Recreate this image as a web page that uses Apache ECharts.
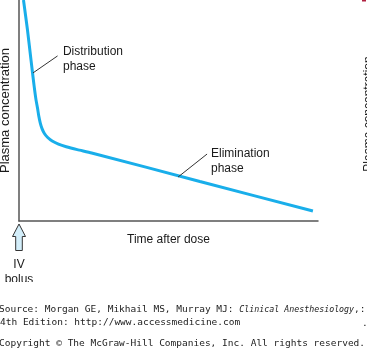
<!DOCTYPE html>
<html>
<head>
<meta charset="utf-8">
<script src="https://cdn.jsdelivr.net/npm/echarts@6/dist/echarts.min.js"></script>
<style>
  html, body { margin: 0; padding: 0; background: #fff; }
  #chart { width: 367px; height: 349px; }
</style>
</head>
<body>
<div id="chart"></div>
<script>
// Plasma concentration after an IV bolus (arbitrary units, time in arbitrary units)
const timeVals = [1.5, 2.84, 4.01, 5.02, 5.69, 6.2, 6.6, 7.1, 7.7, 8.5, 9.6, 11.1, 13.2, 15.8, 19.5, 24.3, 60.5, 98.3];
const concVals = [100, 86.4, 72.9, 61.5, 54.8, 51.0, 47.6, 44.4, 41.8, 39.6, 37.8, 36.2, 34.8, 33.6, 32.3, 30.8, 17.9, 4.5];

// Phase annotations: leader line start (on curve), leader line end, text anchor
const phaseNames = ['Distribution\nphase', 'Elimination\nphase'];
const leaderFrom = [[4.68, 67.0], [53.2, 19.9]];
const leaderTo = [[12.9, 74.7], [62.9, 30.3]];
const textAt = [[14.7, 73.1], [64.2, 27.2]];

const xAxisName = 'Time after dose';
const yAxisName = 'Plasma concentration';

const FONT = '"Liberation Sans", Arial, sans-serif';
const MONO = '"DejaVu Sans Mono", monospace';

const chart = echarts.init(document.getElementById('chart'), null, { renderer: 'canvas' });

chart.setOption({
  animation: false,
  backgroundColor: '#fff',
  grid: { left: 19, right: 49, top: 0, bottom: 128, containLabel: false, outerBoundsMode: 'none' },
  xAxis: {
    type: 'value', min: 0, max: 100,
    name: xAxisName, nameLocation: 'middle', nameGap: 13,
    nameTextStyle: { fontFamily: FONT, fontSize: 12, color: '#1a1a1a' },
    axisLine: { show: true, onZero: false, lineStyle: { color: '#555', width: 1.5 } },
    axisTick: { show: false }, axisLabel: { show: false }, splitLine: { show: false }
  },
  yAxis: {
    type: 'value', min: 0, max: 100,
    name: yAxisName, nameLocation: 'middle', nameGap: 7, nameRotate: 90,
    nameTextStyle: { fontFamily: FONT, fontSize: 13, color: '#1a1a1a' },
    axisLine: { show: true, onZero: false, lineStyle: { color: '#555', width: 1.5 } },
    axisTick: { show: false }, axisLabel: { show: false }, splitLine: { show: false }
  },
  series: [{
    type: 'line',
    data: timeVals.map((t, i) => [t, concVals[i]]),
    smooth: 0.2,
    showSymbol: false,
    clip: false,
    lineStyle: { color: '#19aeea', width: 3 }
  }]
});

// Annotations placed through the chart's own coordinate system
const g = [];
phaseNames.forEach((name, i) => {
  const a = chart.convertToPixel({ gridIndex: 0 }, leaderFrom[i]);
  const b = chart.convertToPixel({ gridIndex: 0 }, leaderTo[i]);
  const t = chart.convertToPixel({ gridIndex: 0 }, textAt[i]);
  g.push({
    type: 'line', shape: { x1: a[0], y1: a[1], x2: b[0], y2: b[1] },
    style: { stroke: '#333', lineWidth: 1 }, z: 10
  });
  g.push({
    type: 'text', x: t[0], y: t[1], z: 10,
    style: {
      text: name, font: '12px ' + FONT, fill: '#1a1a1a',
      align: 'left', verticalAlign: 'middle', lineHeight: 15
    }
  });
});

// IV bolus arrow under the origin
const o = chart.convertToPixel({ gridIndex: 0 }, [0, 0]);
const ax = o[0], ay = o[1];
g.push({
  type: 'polygon', z: 10,
  shape: {
    points: [
      [ax, ay + 3], [ax + 6.5, ay + 15.5], [ax + 3.3, ay + 15.5], [ax + 3.3, ay + 29.5],
      [ax - 3.3, ay + 29.5], [ax - 3.3, ay + 15.5], [ax - 6.5, ay + 15.5]
    ]
  },
  style: { fill: '#d3eefa', stroke: '#333', lineWidth: 1 }
});
g.push({
  type: 'text', x: ax, y: ay + 36.5, z: 10,
  style: { text: 'IV\nbolus', font: '12px ' + FONT, fill: '#1a1a1a', align: 'center', verticalAlign: 'top', lineHeight: 15 }
});
// figure panel ends below here
g.push({ type: 'rect', shape: { x: 0, y: 282, width: 367, height: 18 }, style: { fill: '#fff' }, z: 20 });

// Edge of the neighbouring panel
g.push({
  type: 'text', x: 369, y: 114, rotation: Math.PI / 2, z: 10,
  style: { text: yAxisName, font: '12px ' + FONT, fill: '#1a1a1a', align: 'center', verticalAlign: 'middle' }
});
g.push({ type: 'rect', shape: { x: 362, y: 0, width: 4, height: 1.5 }, style: { fill: '#b02040' }, z: 10 });

// Credit lines
g.push({
  type: 'text', x: -1, y: 310, z: 30,
  style: {
    text: 'Source: Morgan GE, Mikhail MS, Murray MJ: {i|Clinical Anesthesiology}{n|,:}',
    font: '9.5px ' + MONO, fill: '#222', verticalAlign: 'middle',
    rich: {
      i: { fontFamily: MONO, fontSize: 8.3, fontStyle: 'italic', fill: '#222' },
      n: { fontFamily: MONO, fontSize: 9.5, fill: '#222' }
    }
  }
});
g.push({
  type: 'text', x: 0, y: 323, z: 30,
  style: { text: '4th Edition: http://www.accessmedicine.com', font: '9.5px ' + MONO, fill: '#222', verticalAlign: 'middle' }
});
g.push({
  type: 'text', x: 362, y: 324, z: 30,
  style: { text: '.', font: '9.5px ' + MONO, fill: '#222', verticalAlign: 'middle' }
});
g.push({
  type: 'text', x: -1, y: 344, z: 30,
  style: { text: 'Copyright \u00a9 The McGraw-Hill Companies, Inc. All rights reserved. c', font: '9.5px ' + MONO, fill: '#222', verticalAlign: 'middle' }
});

chart.setOption({ graphic: g });
</script>
</body>
</html>
